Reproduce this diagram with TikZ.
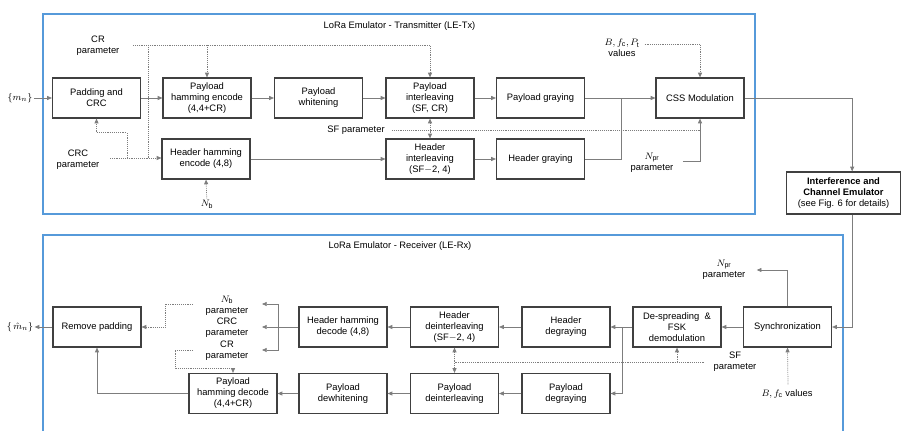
\documentclass[tikz,border=0pt]{standalone}
\usepackage{fontspec}
\setmainfont{Liberation Sans}
\usetikzlibrary{arrows.meta,calc}
\definecolor{boxgray}{RGB}{64,64,64}
\definecolor{linegray}{RGB}{125,125,125}
\definecolor{frameblue}{RGB}{86,154,218}

\begin{document}
\begin{tikzpicture}[x=0.03cm,y=-0.03cm,>={Triangle[length=4pt,width=3.4pt]},
  font=\fontsize{8}{9.4}\selectfont,
  blk/.style={draw=boxgray,line width=1pt,minimum width=2.64cm,minimum height=1.2cm,align=center,inner sep=1pt},
  wire/.style={draw=linegray,line width=0.6pt},
  conn/.style={wire,->},
  dot/.style={draw=linegray,line width=0.6pt,dash pattern=on 0.7pt off 0.9pt},
  lbl/.style={align=center,inner sep=1pt},
  frame/.style={draw=frameblue,line width=1pt}]
  \useasboundingbox (0,0) rectangle (901,431);
  \draw[frame] (43,14) rectangle (755,214);
  \draw[frame] (43,440) |- (843,235) -- (843,440);
  \node (txt) at (399.5,26) {LoRa Emulator - Transmitter (LE-Tx)};
  \node (rxt) at (400,246) {LoRa Emulator - Receiver (LE-Rx)};

  % transmitter
  \node[blk] (pad)  at (96.5,98)  {Padding and\\CRC};
  \node[blk] (penc) at (207,98)   {Payload\\hamming encode\\(4,4+CR)};
  \node[blk] (pwht) at (318.5,98) {Payload\\whitening};
  \node[blk] (pint) at (430,98)   {Payload\\interleaving\\(SF, CR)};
  \node[blk] (pgry) at (540.5,98) {Payload graying};
  \node[blk] (css)  at (700,98)   {CSS Modulation};
  \node[blk] (henc) at (206,159)  {Header hamming\\encode (4,8)};
  \node[blk] (hint) at (430,159)  {Header\\interleaving\\(SF$-$2, 4)};
  \node[blk] (hgry) at (540.5,159) {Header graying};
  \node[blk,minimum width=3.42cm,minimum height=1.26cm,inner sep=0pt] (ice) at (843.5,193)
    {\textbf{Interference and}\\\textbf{Channel Emulator}\\(see Fig. 6 for details)};

  \node[lbl] (mn)  at (20,98)   {$\{m_n\}$};
  \node[lbl] (crp) at (98,46)   {CR\\parameter};
  \node[lbl] (crc) at (78,160)  {CRC\\parameter};
  \node[lbl] (nb)  at (207,204) {$N_\mathrm{b}$};
  \node[lbl] (sfp) at (356,130) {SF parameter};
  \node[lbl] (bfp) at (622,48)  {$B, f_\mathrm{c}, P_\mathrm{t}$\\values};
  \node[lbl] (npr) at (652,163) {$N_\mathrm{pr}$\\parameter};

  \coordinate (crs) at (133,45);
  \coordinate (crb) at (148,45);
  \coordinate (crcs) at (110,158);
  \coordinate (crcb) at (127,158);
  \coordinate (jgry) at (621,98);

  \draw[conn] (mn) -- (pad);
  \draw[conn] (pad) -- (penc);
  \draw[conn] (penc) -- (pwht);
  \draw[conn] (pwht) -- (pint);
  \draw[conn] (pint) -- (pgry);
  \draw[conn] (pgry) -- (css);
  \draw[wire] (hgry.east) -| (jgry);
  \draw[conn] (henc.east) -- (henc.east -| hint.west);
  \draw[conn] (hint) -- (hgry);
  \draw[dot,->] (crs) -| (pint.north);
  \draw[dot,->] (penc.north |- crs) -- (penc.north);
  \draw[dot] (crb) -- (crb |- crcs);
  \draw[dot,->] (crcs) -- (crcs -| henc.west);
  \draw[dot,->] (crcb) |- ($(pad.south)+(0,14)$) -- (pad.south);
  \draw[dot,->] (nb) -- (henc.south);
  \draw[dot] ($(sfp.east)+(6,0)$) -- (sfp.east -| css.south);
  \draw[dot,<->] (pint.south) -- (hint.north);
  \draw[dot,->] ($(bfp.east)+(4,-4)$) -| (css.north);
  \draw[conn] ($(npr.east)+(8,-2)$) -| (css.south);
  \draw[conn] (css.east) -| ([xshift=0.26cm]ice.north);

  % receiver
  \node[blk] (rmp)  at (97,327)    {Remove padding};
  \node[blk] (hdec) at (343,327)   {Header hamming\\decode (4,8)};
  \node[blk] (hdei) at (454.5,327) {Header\\deinterleaving\\(SF$-$2, 4)};
  \node[blk] (hdgr) at (566,327)   {Header\\degraying};
  \node[blk] (desp) at (677,327)   {De-spreading~~\&\\FSK\\demodulation};
  \node[blk] (sync) at (787.5,327) {Synchronization};
  \node[blk] (pdec) at (233,393.5) {Payload\\hamming decode\\(4,4+CR)};
  \node[blk] (pdwh) at (343,393.5) {Payload\\dewhitening};
  \node[blk] (pdei) at (454.5,393.5) {Payload\\deinterleaving};
  \node[blk] (pdgr) at (566,393.5) {Payload\\degraying};

  \node[lbl] (mhat) at (20,327)  {$\{\,\hat{m}_n\}$};
  \node[lbl,font=\fontsize{8}{9.6}\selectfont] (rxp) at (227,328)
    {$N_\mathrm{b}$\\parameter\\CRC\\parameter\\CR\\parameter};
  \node[lbl] (nprx) at (724,270) {$N_\mathrm{pr}$\\parameter};
  \node[lbl] (sfx)  at (735,362) {SF\\parameter};
  \node[lbl] (bfx)  at (787,394) {$B, f_\mathrm{c}$ values};

  \coordinate (jdsp) at (622,327);
  \coordinate (brk) at (278,304);
  \coordinate (brt) at (262,304);
  \coordinate (nbo) at (193,304);
  \coordinate (cro) at (193,350);

  \draw[conn] (sync) -- (desp);
  \draw[conn] (desp) -- (hdgr);
  \draw[conn] (jdsp) |- (pdgr.east);
  \draw[conn] (hdgr) -- (hdei);
  \draw[conn] (hdei) -- (hdec);
  \draw[conn] (pdgr) -- (pdei);
  \draw[conn] (pdei) -- (pdwh);
  \draw[conn] (pdwh) -- (pdec);
  \draw[conn] (hdec.west) -- (hdec.west -| brt);
  \draw[wire,<->] (brt) -- (brk) -- ++(0,46) -- ++(-16,0);
  \draw[dot,->] (nbo) -| ++(-28,23) -- (rmp.east);
  \draw[dot,->] (cro) -| ++(-18,18) -| (pdec.north);
  \draw[conn] (pdec.west) -| (rmp.south);
  \draw[conn] (rmp) -- (mhat);
  \draw[conn] (sync.north) |- ($(nprx.east)+(10,0)$);
  \draw[dot] ($(sfx.west)+(-8,0)$) -- (hdei.south |- sfx.west);
  \draw[dot,<->] (hdei.south) -- (pdei.north);
  \draw[dot,->] (desp.south |- sfx.west) -- (desp.south);
  \draw[dot,->] ($(bfx.north)+(1,-4)$) -- (sync.south);
  \draw[conn] ([xshift=0.26cm]ice.south) |- (sync.east);
\end{tikzpicture}
\end{document}
